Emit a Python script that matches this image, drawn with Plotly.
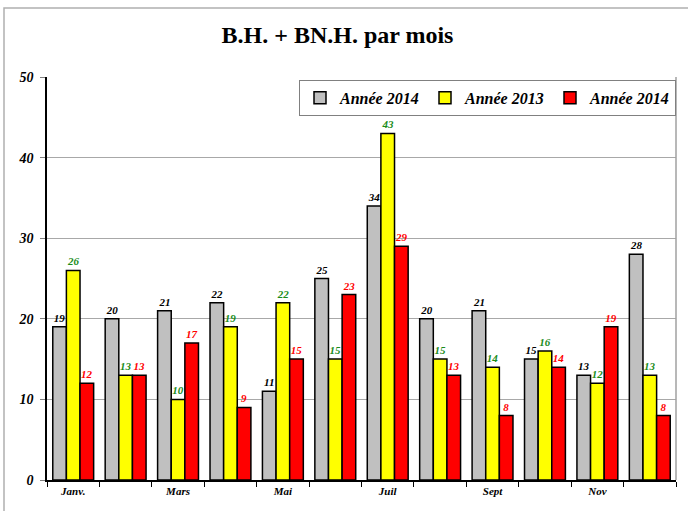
import plotly.graph_objects as go

months = ["Janv.", "Févr.", "Mars", "Avr.", "Mai", "Juin", "Juil", "Août", "Sept", "Oct", "Nov", "Déc"]
month_labels = ["Janv.", "", "Mars", "", "Mai", "", "Juil", "", "Sept", "", "Nov", ""]
series_names = ["Année 2014", "Année 2013", "Année 2014"]
gray_vals = [19, 20, 21, 22, 11, 25, 34, 20, 21, 15, 13, 28]
yellow_vals = [26, 13, 10, 19, 22, 15, 43, 15, 14, 16, 12, 13]
red_vals = [12, 13, 17, 9, 15, 23, 29, 13, 8, 14, 19, 8]
y_ticks = [0, 10, 20, 30, 40, 50]

SERIF = "Liberation Serif, Times New Roman, serif"
fills = ["#c0c0c0", "#ffff00", "#ff0000"]
label_colors = ["#000000", "#1a8c1a", "#ff0000"]

fig = go.Figure()
for name, vals, fc, lc in zip(series_names, [gray_vals, yellow_vals, red_vals], fills, label_colors):
    fig.add_trace(go.Bar(
        x=months, y=vals, name=name,
        marker=dict(color=fc, line=dict(color="black", width=1.5)),
        text=vals, textposition="outside", cliponaxis=False,
        textfont=dict(family=SERIF, size=11, color=lc, weight="bold", style="italic"),
    ))

fig.update_layout(
    width=688, height=511,
    margin=dict(l=47, r=12, t=77, b=31),
    paper_bgcolor="white", plot_bgcolor="white",
    barmode="group", bargap=0.22, bargroupgap=0,
    title=dict(text="<b>B.H. + BN.H. par mois</b>", x=337.5 / 688, xref="container", xanchor="center",
               y=1 - 35 / 511, yref="container", yanchor="middle",
               font=dict(family=SERIF, size=24, color="black")),
    legend=dict(orientation="h", x=1, xanchor="right", y=0.993, yanchor="top",
                bgcolor="white", bordercolor="#808080", borderwidth=1,
                itemwidth=30, entrywidth=80, entrywidthmode="pixels",
                font=dict(family=SERIF, size=16, color="black", weight="bold", style="italic")),
    xaxis=dict(type="category", tickmode="array", tickvals=months, ticktext=month_labels,
               tickson="boundaries", ticks="outside", ticklen=5, tickcolor="black",
               showline=True, linecolor="black", linewidth=1.5, showgrid=False,
               tickfont=dict(family=SERIF, size=11, color="black", weight="bold", style="italic")),
    yaxis=dict(range=[0, 50], tickvals=y_ticks, ticks="outside", ticklen=5, tickcolor="#808080",
               ticklabelstandoff=4,
               showline=True, linecolor="black", linewidth=1.5,
               showgrid=True, gridcolor="#a8a8a8", gridwidth=1, zeroline=False,
               tickfont=dict(family=SERIF, size=14, color="black", weight="bold", style="italic")),
    shapes=[
        dict(type="line", xref="paper", yref="paper", x0=1, x1=1, y0=0, y1=1,
             line=dict(color="#a0a0a0", width=1.5)),
        dict(type="rect", xref="paper", yref="paper",
             x0=(4 - 47) / 629, x1=(700 - 47) / 629, y0=-(40 / 403), y1=1 + (77 - 8) / 403,
             line=dict(color="#b0b0b0", width=1.5), layer="below"),
    ],
)

fig.write_html("out.html", config={"displayModeBar": False},
               post_script="document.body.style.margin='0px';")
